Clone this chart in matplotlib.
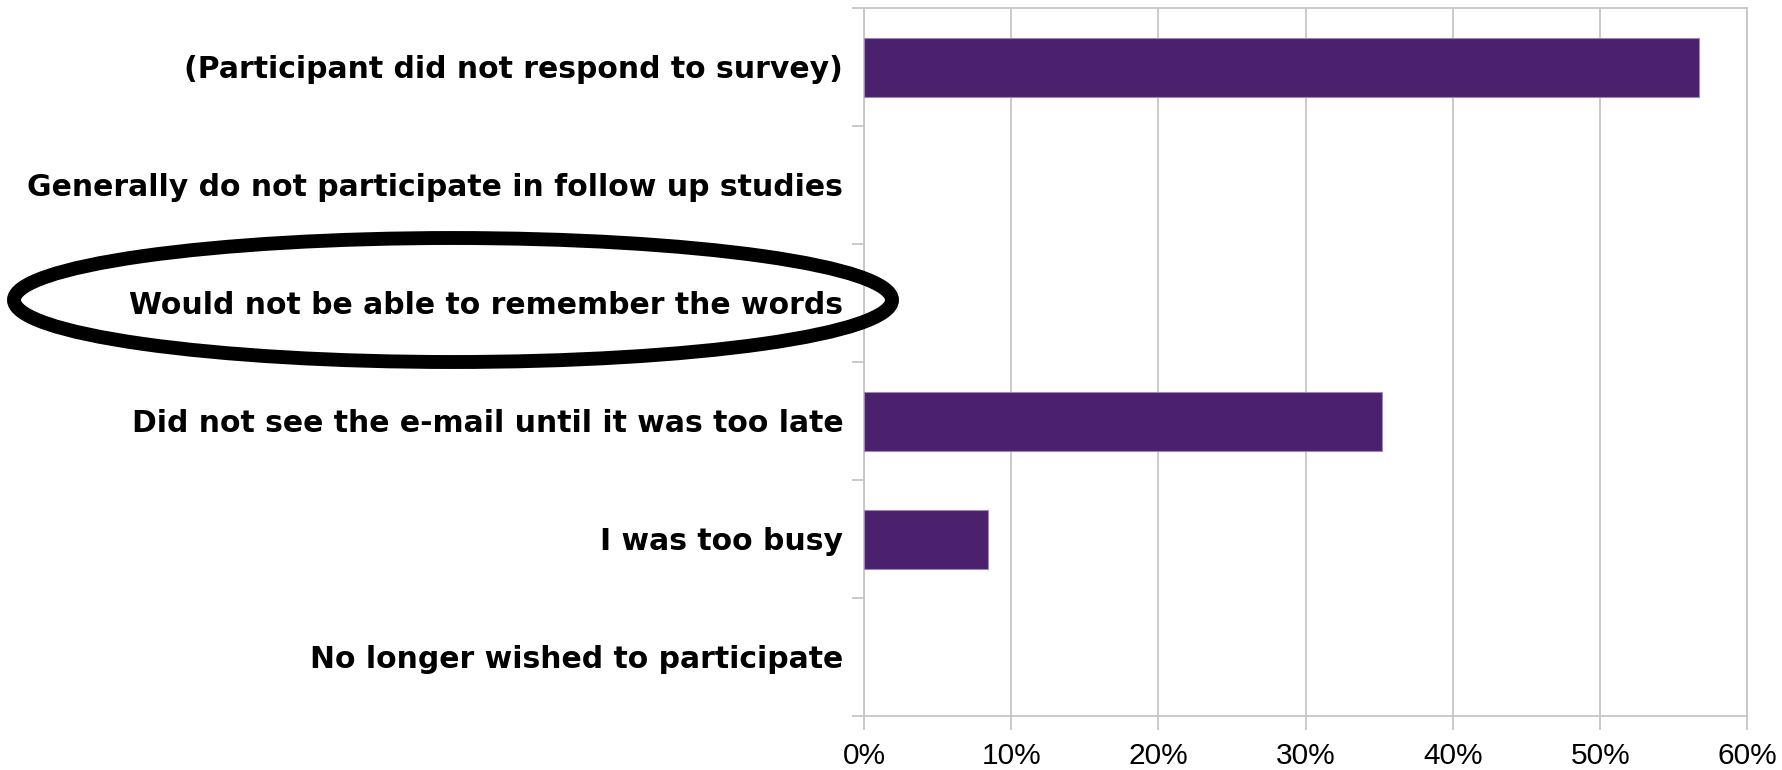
import numpy as np
import matplotlib.pyplot as plt
from matplotlib.patches import Ellipse
from matplotlib.ticker import FixedLocator, FuncFormatter

reasons = ['(Participant did not respond to survey)',
           'Generally do not participate in follow up studies',
           'Would not be able to remember the words',
           'Did not see the e-mail until it was too late',
           'I was too busy',
           'No longer wished to participate']
share = [56.7, 0, 0, 35.2, 8.4, 0]
xticks = [0, 10, 20, 30, 40, 50, 60]

bar_col = '#4b206c'
grid_col = '#c6c6c6'

fig = plt.figure(figsize=(17.83, 7.70), dpi=100)
ax = fig.add_axes([864/1783, 1 - 716/770, (1747.5 - 864)/1783, (716 - 8)/770])

ypos = np.arange(len(reasons))
edge_w = [0.8 if v > 0 else 0 for v in share]
ax.barh(ypos, share, height=0.5, color=bar_col, edgecolor='#9c88b4', linewidth=edge_w, zorder=3)

ax.set_xlim(0, 60)
ax.set_ylim(len(reasons) - 0.5, -0.5)

# vertical grid + percent labels
ax.set_xticks(xticks)
ax.xaxis.set_major_formatter(FuncFormatter(lambda v, p: f'{v:.0f}%'))
ax.grid(axis='x', color=grid_col, linewidth=1.3, zorder=0)
ax.tick_params(axis='x', direction='out', length=10, width=1.3, color=grid_col,
               pad=9, labelsize=21.5)
for lab in ax.get_xticklabels():
    lab.set_fontfamily('Liberation Sans')

# category ticks sit between bars, labels at bar centres
ax.yaxis.set_major_locator(FixedLocator(np.arange(-0.5, len(reasons), 1.0)))
ax.yaxis.set_major_formatter(FuncFormatter(lambda v, p: ''))
ax.yaxis.set_minor_locator(FixedLocator(ypos))
ax.set_yticklabels(reasons, minor=True)
ax.tick_params(axis='y', which='major', direction='out', length=9, width=1.3, color=grid_col)
ax.tick_params(axis='y', which='minor', length=0, pad=15, labelsize=21.5)
for lab in ax.get_yticklabels(minor=True):
    lab.set_fontweight('bold')
    lab.set_fontfamily('DejaVu Sans')

for s in ax.spines.values():
    s.set_color(grid_col)
    s.set_linewidth(1.3)

# ring around the "remember the words" answer
ring = Ellipse((453/1783, 1 - 300/770), 878/1783, 124/770, transform=fig.transFigure,
               fill=False, edgecolor='black', linewidth=10, zorder=10)
fig.add_artist(ring)

fig.savefig('out.png', dpi=100, facecolor='white')
